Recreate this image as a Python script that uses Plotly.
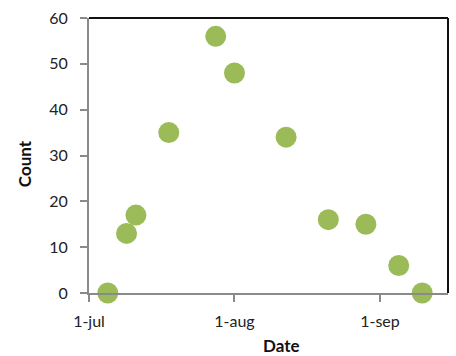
import plotly.graph_objects as go

dates = ["2012-07-05", "2012-07-09", "2012-07-11", "2012-07-18", "2012-07-28",
         "2012-08-01", "2012-08-12", "2012-08-21", "2012-08-29", "2012-09-05",
         "2012-09-10"]
counts = [0, 13, 17, 35, 56, 48, 34, 16, 15, 6, 0]
xtick_vals = ["2012-07-01", "2012-08-01", "2012-09-01"]
xtick_text = ["1-jul", "1-aug", "1-sep"]
ytick_vals = [0, 10, 20, 30, 40, 50, 60]

FONT = "Lato"
fig = go.Figure()
fig.add_trace(go.Scatter(
    x=dates, y=counts, mode="markers",
    marker=dict(size=21, color="#9BBB59", line=dict(width=0)),
    cliponaxis=False, showlegend=False,
))

fig.update_layout(
    width=456, height=356,
    margin=dict(l=89, r=8, t=15, b=63),
    paper_bgcolor="white", plot_bgcolor="white",
    font=dict(family=FONT, size=16, color="#222222"),
    xaxis=dict(
        type="date", range=["2012-07-01", "2012-09-15 12:00"],
        tickvals=xtick_vals, ticktext=xtick_text,
        showgrid=False, zeroline=False,
        showline=True, linecolor="#8a8a8a", linewidth=2,
        ticks="outside", ticklen=7, tickwidth=2, tickcolor="#8a8a8a",
        ticklabelstandoff=6,
        tickfont=dict(family=FONT, size=16, color="#222222"),
    ),
    yaxis=dict(
        range=[0, 60], tickvals=ytick_vals,
        showgrid=False, zeroline=False,
        showline=True, linecolor="#8a8a8a", linewidth=2,
        ticks="outside", ticklen=7, tickwidth=2, tickcolor="#8a8a8a",
        ticklabelstandoff=9,
        tickfont=dict(family=FONT, size=16, color="#222222"),
    ),
    shapes=[
        dict(type="line", xref="paper", yref="paper", x0=0, x1=1, y0=1, y1=1,
             line=dict(color="#111111", width=2)),
        dict(type="line", xref="paper", yref="paper", x0=1, x1=1, y0=0, y1=1,
             line=dict(color="#111111", width=2)),
    ],
    annotations=[
        dict(text="<b>Count</b>", xref="paper", yref="paper", x=-0.18, y=0.47,
             textangle=-90, showarrow=False, font=dict(family=FONT, size=17, color="#111111"),
             xanchor="center", yanchor="middle"),
        dict(text="<b>Date</b>", xref="paper", yref="paper", x=0.535, y=-0.19,
             showarrow=False, font=dict(family=FONT, size=17, color="#111111"),
             xanchor="center", yanchor="middle"),
    ],
)

fig.write_html("out.html")
